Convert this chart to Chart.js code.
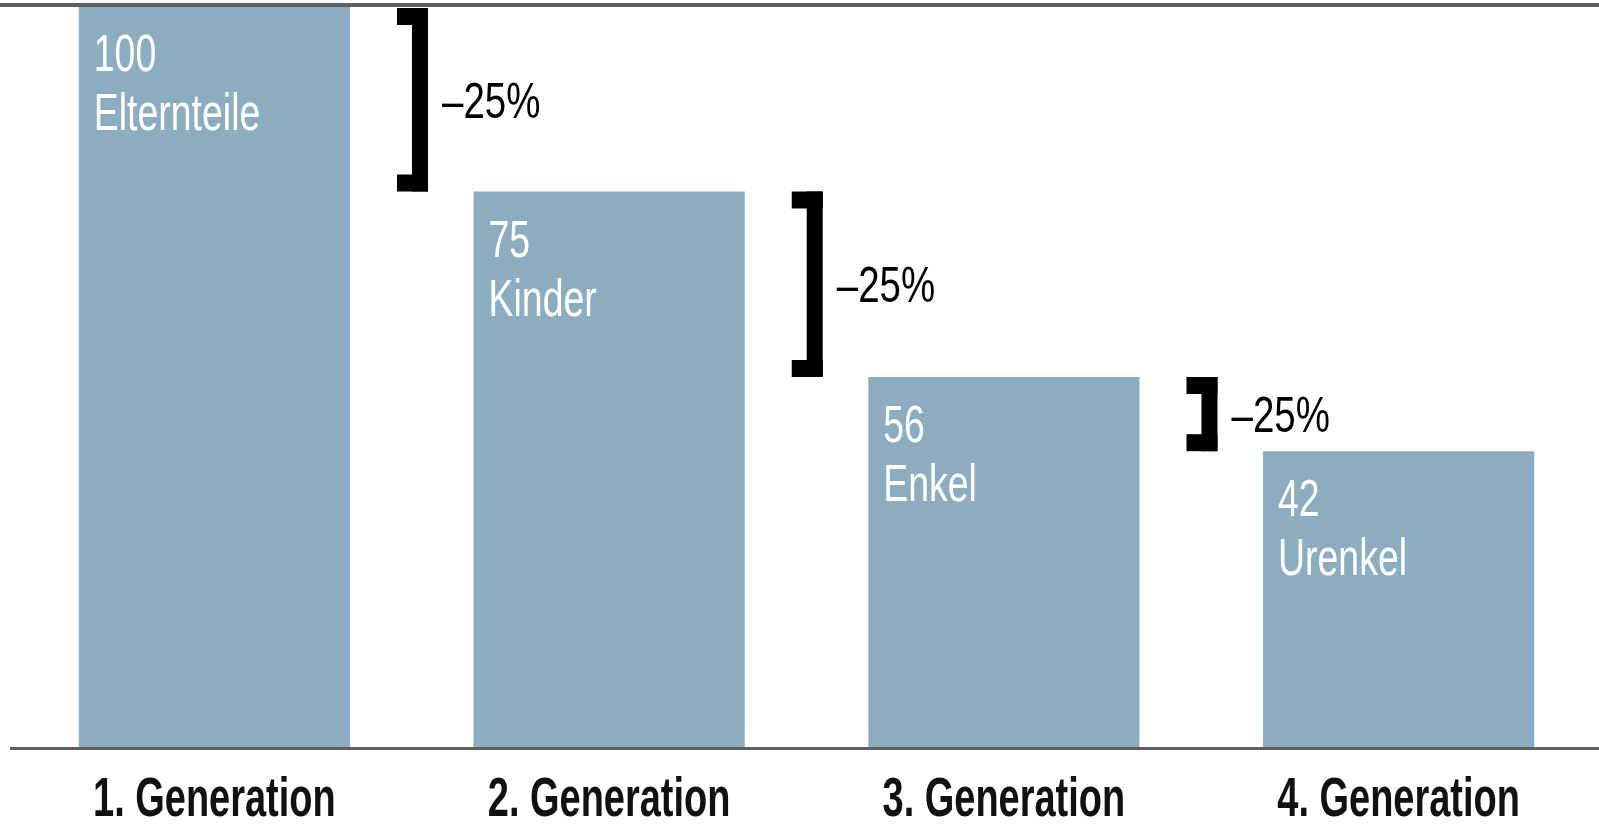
<!DOCTYPE html>
<html><head><meta charset="utf-8">
<script src="https://cdn.jsdelivr.net/npm/chart.js@4.4.1/dist/chart.umd.min.js"></script>
<style>html,body{margin:0;padding:0;background:#fff;}#wrap{width:1599px;height:838px;position:relative;}</style>
</head><body><div id="wrap"><canvas id="c"></canvas></div>
<script>
const categories = ["1. Generation", "2. Generation", "3. Generation", "4. Generation"];
const barHeights = [100, 75, 50, 40];
const valueLabels = ["100", "75", "56", "42"];
const groupLabels = ["Elternteile", "Kinder", "Enkel", "Urenkel"];
const changeLabels = ["–25%", "–25%", "–25%"];

const BAR_COLOR = '#8badbf';
const LINE_COLOR = '#5f5f5f';
const FONT = '"Liberation Sans", Arial, sans-serif';

// draw text horizontally condensed (the original uses a condensed face)
function condensedText(ctx, text, x, y, font, sx, color, align) {
  ctx.save();
  ctx.font = font;
  ctx.fillStyle = color;
  ctx.textBaseline = 'alphabetic';
  ctx.textAlign = align || 'left';
  ctx.translate(x, y);
  ctx.scale(sx, 1);
  ctx.fillText(text, 0, 0);
  ctx.restore();
}

const decor = {
  id: 'decor',
  beforeDraw(chart) {
    const ctx = chart.ctx;
    ctx.save();
    ctx.fillStyle = '#ffffff';
    ctx.fillRect(0, 0, chart.width, chart.height);
    ctx.restore();
  },
  afterDatasetsDraw(chart) {
    const { ctx, chartArea, scales: { x } } = chart;
    const meta = chart.getDatasetMeta(0);
    ctx.save();
    // frame lines
    ctx.fillStyle = LINE_COLOR;
    ctx.fillRect(0, 3, chart.width, 4);
    ctx.fillRect(10, chartArea.bottom - 1, chart.width - 10, 3);
    // labels inside bars
    meta.data.forEach((bar, i) => {
      const left = bar.x - bar.width / 2;
      condensedText(ctx, valueLabels[i], left + 15, bar.y + 65, '52px ' + FONT, 0.72, '#ffffff');
      condensedText(ctx, groupLabels[i], left + 15, bar.y + 124, '52px ' + FONT, 0.72, '#ffffff');
    });
    // category labels under the axis
    categories.forEach((c, i) => {
      condensedText(ctx, c, x.getPixelForValue(i), 816, 'bold 55px ' + FONT, 0.69, '#111111', 'center');
    });
    // brackets
    for (let i = 0; i < changeLabels.length; i++) {
      const a = meta.data[i], b = meta.data[i + 1];
      const right = a.x + a.width / 2 + 78;
      const y0 = Math.max(a.y, chartArea.top + 2);
      const y1 = b.y;
      const T = 16, S = 15, H = Math.min(17, (y1 - y0) / 3);
      ctx.fillStyle = '#000000';
      ctx.fillRect(right - T, y0, T, y1 - y0);
      ctx.fillRect(right - T - S, y0, S + T, H);
      ctx.fillRect(right - T - S, y1 - H, S + T, H);
      condensedText(ctx, changeLabels[i], right + 14, (y0 + y1) / 2 + 18, '50px ' + FONT, 0.77, '#000000');
    }
    ctx.restore();
  }
};

new Chart(document.getElementById('c'), {
  type: 'bar',
  data: {
    labels: categories,
    datasets: [{
      data: barHeights,
      backgroundColor: BAR_COLOR,
      borderWidth: 0,
      barPercentage: 0.687,
      categoryPercentage: 1.0
    }]
  },
  options: {
    responsive: true,
    maintainAspectRatio: false,
    devicePixelRatio: 1,
    animation: false,
    layout: { padding: { top: 6, left: 17, right: 3, bottom: 0 } },
    plugins: { legend: { display: false }, tooltip: { enabled: false } },
    scales: {
      x: {
        grid: { display: false, drawTicks: false },
        border: { display: false },
        ticks: { display: false },
        afterFit(scale) { scale.height = 90; }
      },
      y: {
        display: false,
        min: 0,
        max: 100
      }
    }
  },
  plugins: [decor]
});
</script>
</body></html>
